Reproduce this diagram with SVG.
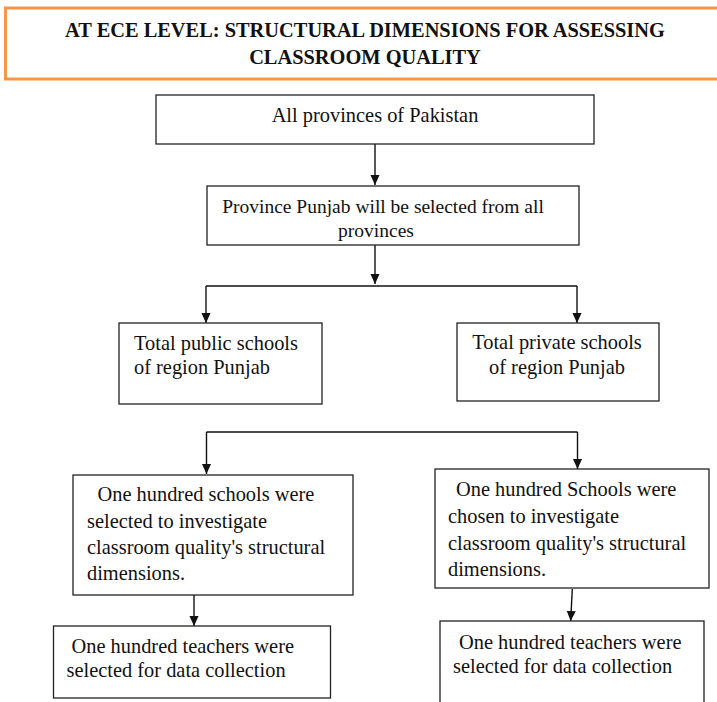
<svg xmlns="http://www.w3.org/2000/svg" width="717" height="702" viewBox="0 0 717 702">
<defs>
<style>
.box{fill:#fff;stroke:#222;stroke-width:1.3}
.t{font-family:'Liberation Serif','Times New Roman',Tinos,'DejaVu Serif',serif;font-size:20.4px;fill:#111}
.h{font-family:'Liberation Serif','Times New Roman',Tinos,'DejaVu Serif',serif;font-size:20.4px;font-weight:bold;fill:#111;text-anchor:middle}
.c{text-anchor:middle}
.ln{fill:none;stroke:#111;stroke-width:1.4}
</style>
<marker id="ah" markerUnits="userSpaceOnUse" markerWidth="10" markerHeight="12" refX="11" refY="5" orient="auto" viewBox="0 0 11 10">
<path d="M0,0 L11,5 L0,10 z" fill="#111"/>
</marker>
</defs>
<rect width="717" height="702" fill="#fff"/>
<g id="title">
<rect x="5.5" y="8" width="720" height="71" fill="#fff" stroke="#f79646" stroke-width="3"/>
<text class="h" x="365" y="37">AT ECE LEVEL: STRUCTURAL DIMENSIONS FOR ASSESSING</text>
<text class="h" x="365" y="64">CLASSROOM QUALITY</text>
</g>
<g id="connectors">
<path class="ln" d="M375,144 V185" marker-end="url(#ah)"/>
<path class="ln" d="M375,245 V284" marker-end="url(#ah)"/>
<path class="ln" d="M206,286 H577"/>
<path class="ln" d="M206,286 V323" marker-end="url(#ah)"/>
<path class="ln" d="M577,286 V323" marker-end="url(#ah)"/>
<path class="ln" d="M206.5,432 H577.5"/>
<path class="ln" d="M206.5,432 V474" marker-end="url(#ah)"/>
<path class="ln" d="M577.5,432 V469" marker-end="url(#ah)"/>
<path class="ln" d="M194,589 V626" marker-end="url(#ah)"/>
<path class="ln" d="M572.3,589 L570.7,621" marker-end="url(#ah)"/>
</g>
<g id="n1">
<rect class="box" x="156" y="95" width="438" height="49"/>
<text class="t c" x="375" y="122">All provinces of Pakistan</text>
</g>
<g id="n2">
<rect class="box" x="207" y="186" width="372" height="59"/>
<text class="t c" x="383" y="213" style="font-size:19.5px">Province Punjab will be selected from all</text>
<text class="t c" x="376" y="237" style="font-size:19.5px">provinces</text>
</g>
<g id="n3">
<rect class="box" x="119" y="323" width="203" height="81"/>
<text class="t" x="134" y="350">Total public schools</text>
<text class="t" x="134" y="374">of region Punjab</text>
</g>
<g id="n4">
<rect class="box" x="457" y="323" width="202" height="78"/>
<text class="t c" x="557" y="349">Total private schools</text>
<text class="t c" x="557" y="374">of region Punjab</text>
</g>
<g id="n5">
<rect class="box" x="73" y="475" width="280" height="120"/>
<text class="t" x="97.5" y="501">One hundred schools were</text>
<text class="t" x="87" y="528">selected to investigate</text>
<text class="t" x="87" y="554">classroom quality's structural</text>
<text class="t" x="87" y="580">dimensions.</text>
</g>
<g id="n6">
<rect class="box" x="435" y="469" width="274" height="119"/>
<text class="t" x="456" y="496">One hundred Schools were</text>
<text class="t" x="448" y="523">chosen to investigate</text>
<text class="t" x="448" y="550">classroom quality's structural</text>
<text class="t" x="448" y="576">dimensions.</text>
</g>
<g id="n7">
<rect class="box" x="53.5" y="626" width="277" height="72"/>
<text class="t" x="71.5" y="653">One hundred teachers were</text>
<text class="t" x="66.5" y="677">selected for data collection</text>
</g>
<g id="n8">
<rect class="box" x="440" y="621" width="264" height="90"/>
<text class="t" x="459" y="649">One hundred teachers were</text>
<text class="t" x="453" y="673">selected for data collection</text>
</g>
</svg>
